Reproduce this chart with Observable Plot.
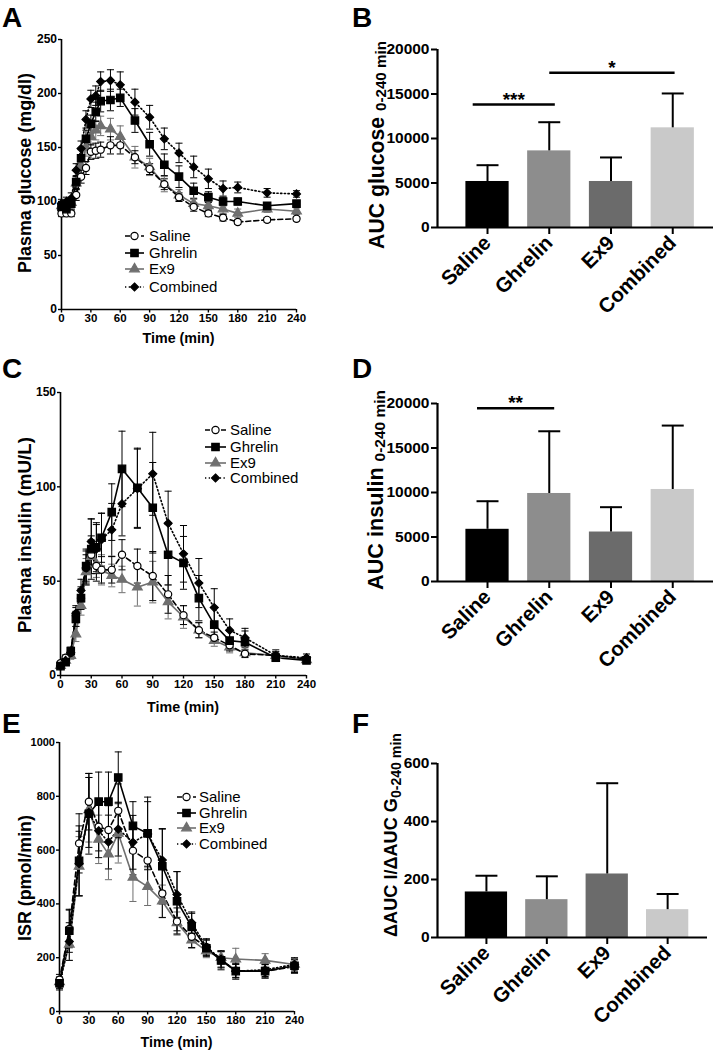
<!DOCTYPE html>
<html>
<head>
<meta charset="utf-8">
<script src="https://cdn.jsdelivr.net/npm/d3@7"></script>
<script src="https://cdn.jsdelivr.net/npm/@observablehq/plot@0.6"></script>
<style>
  body { margin: 0; background: #fff; }
  #fig { position: relative; width: 717px; height: 1054px; overflow: hidden; font-family: "Liberation Sans", Arial, sans-serif; }
</style>
</head>
<body>
<div id="fig"></div>
<script>
// ---------------- DATA ----------------
const groups = ["Saline", "Ghrelin", "Ex9", "Combined"];

// Panel A: plasma glucose (mg/dl)
const glucoseTime = [0,5,10,15,20,25,30,35,40,50,60,75,90,105,120,135,150,165,180,210,240];
const glucoseSaline    = [89,89,89,106,123,131,146,147,148,152,152,141,130,116,104,95,89,85,81,83,84];
const glucoseSalineErr = [3,3,3,5,6,6,7,7,7,8,8,6,5,5,4,4,3,3,2,2,2];
const glucoseGhrelin    = [95,93,98,118,140,158,172,183,193,194,196,175,153,134,123,110,104,100,100,96,98];
const glucoseGhrelinErr = [4,4,5,6,8,8,8,9,10,10,8,11,11,10,10,7,5,4,3,3,2];
const glucoseEx9    = [96,96,99,117,133,150,160,166,170,167,160,141,132,116,106,98,96,93,89,93,91];
const glucoseEx9Err = [3,3,4,6,7,8,8,9,9,10,10,10,8,7,5,4,4,4,4,3,3];
const glucoseCombined    = [98,100,103,129,149,176,195,198,211,212,208,192,178,158,145,132,121,112,113,108,107];
const glucoseCombinedErr = [4,4,5,6,7,8,8,9,9,10,12,12,11,10,9,10,9,7,5,4,3];

// Panel C: plasma insulin (mU/L)
const insulinTime = [0,5,10,15,20,25,30,35,40,50,60,75,90,105,120,135,150,165,180,210,240];
const insulinSaline    = [6.5,9.4,12,32,41,57,64,58,56,56,64,58,52.7,43,32,24,20,16,11.5,10.6,8.8];
const insulinSalineErr = [1,1.5,2,4,5,7,10,8,7,7,8,9,13,10,5,4,3,3,2,2,1];
const insulinGhrelin    = [5,7,13,30,41,58,67,68,73,86.6,109.5,99.5,88.9,64,59.7,41,27,18.5,17.6,9.4,8];
const insulinGhrelinErr = [1,1,2,4,6,9,16,13,13,15,20,21,24,16,14,12,9,5,6,2,1];
const insulinEx9    = [5.3,8,10.6,22,37,55,63,59,56,53,50.9,46.8,49.5,39,31,24,18.5,15,12,10.6,8.3];
const insulinEx9Err = [1,1,2,4,5,7,9,7,8,6,7,10,11,9,6,4,3,3,2,2,1];
const insulinCombined    = [5,8,12,33,45,57,71,67,72,77.2,91,99,106.9,80.7,64.5,49,36,24,20,10.6,9.4];
const insulinCombinedErr = [1,1,2,4,6,9,12,13,14,14,17,21,22,17,15,13,10,6,5,3,2];

// Panel E: insulin secretion rate (pmol/min)
const isrTime = [0,10,20,30,40,50,60,75,90,105,120,135,150,165,180,210,240];
const isrSaline    = [118,307,625,780,687,675,746,598,561,439,335,278,239,192,152,149,167];
const isrSalineErr = [20,70,110,105,90,90,100,90,100,90,50,40,30,30,25,25,25];
const isrGhrelin    = [105,300,560,735,780,780,870,690,662,540,410,315,235,190,150,150,170];
const isrGhrelinErr = [20,80,130,150,110,110,95,90,135,140,110,50,30,35,30,25,25];
const isrEx9    = [110,250,540,750,640,585,662,499,464,410,330,265,225,200,195,190,175];
const isrEx9Err = [20,60,110,120,90,95,110,90,70,60,40,30,25,25,40,25,20];
const isrCombined    = [100,260,550,740,672,630,678,629,660,563,435,330,240,195,150,155,175];
const isrCombinedErr = [20,70,120,130,100,100,100,100,120,115,85,40,30,30,25,25,25];

// Panel B: AUC glucose 0-240 min
const aucGlucose    = [5170, 8610, 5170, 11200];
const aucGlucoseErr = [1830, 3220, 2700, 3860];
const sigB = [{x1: -0.24, x2: 1.09, y: 13820, label: "***"}, {x1: 1.0, x2: 3.03, y: 17380, label: "*"}];

// Panel D: AUC insulin 0-240 min
const aucInsulin    = [5865, 9890, 5560, 10340];
const aucInsulinErr = [3155, 6990, 2790, 7180];
const sigD = [{x1: -0.17, x2: 1.08, y: 19470, label: "**"}];

// Panel F: dAUC I / dAUC G
const aucRatio    = [157, 130.5, 219, 96];
const aucRatioErr = [56, 80.5, 313, 54];

// Tick values
const timeTicks = [0,30,60,90,120,150,180,210,240];
const glucoseTicks = [0,50,100,150,200,250];
const insulinTicks = [0,50,100,150];
const isrTicks = [0,200,400,600,800,1000];
const aucTicks = [0,5000,10000,15000,20000];
const ratioTicks = [0,200,400,600];

// ---------------- STYLES ----------------
const FONT = "Liberation Sans, Arial, Helvetica, sans-serif";
const GREY = "#6f6f6f";
const barColors = ["#000000", "#8d8d8d", "#6b6b6b", "#c9c9c9"];
const styles = {
  Saline:   {color: "#000", symbol: "circle",   d3sym: d3.symbolCircle,   fill: "#fff", dash: "5,3",     r: 3.6},
  Ghrelin:  {color: "#000", symbol: "square",   d3sym: d3.symbolSquare,   fill: "#000", dash: null,      r: 4.2},
  Ex9:      {color: GREY,   symbol: "triangle", d3sym: d3.symbolTriangle, fill: GREY,   dash: null,      r: 3.6},
  Combined: {color: "#000", symbol: "diamond2", d3sym: d3.symbolDiamond2, fill: "#000", dash: "1.3,2.4", r: 3.6}
};
const drawOrder = ["Ex9", "Saline", "Ghrelin", "Combined"];
const cap = {draw(ctx, size) { const w = Math.sqrt(size) / 2; ctx.moveTo(-w, 0); ctx.lineTo(w, 0); }};
const plainFmt = d3.format("d");

const fig = document.getElementById("fig");
function place(node, left, top) {
  node.style.position = "absolute";
  node.style.left = left + "px";
  node.style.top = top + "px";
  node.style.overflow = "visible";
  fig.appendChild(node);
}

// ---------------- LINE PANELS ----------------
function linePanel({time, series, yTicks, left, top, width, height, mt, mr, mb, ml, yFont}) {
  const rows = [];
  for (const name of drawOrder) {
    const s = series[name];
    time.forEach((t, i) => rows.push({group: name, t, v: s[0][i], e: s[1][i]}));
  }
  const marks = [
    Plot.axisX({ticks: timeTicks, tickFormat: plainFmt, tickSize: 3.5, tickPadding: 1, fontSize: 11.5, fontWeight: "bold", label: null, strokeWidth: 1.4}),
    Plot.axisY({ticks: yTicks, tickFormat: plainFmt, tickSize: 3, tickPadding: 1.5, fontSize: yFont, fontWeight: "bold", label: null, strokeWidth: 1.4}),
    Plot.ruleY([0], {strokeWidth: 1.6}),
    Plot.ruleX([0], {strokeWidth: 1.6})
  ];
  for (const name of drawOrder) {
    const st = styles[name];
    const d = rows.filter(r => r.group === name);
    marks.push(
      Plot.ruleX(d, {x: "t", y1: r => r.v - r.e, y2: r => r.v + r.e, stroke: st.color, strokeWidth: 1}),
      Plot.dot(d, {x: "t", y: r => r.v + r.e, symbol: cap, r: 4, stroke: st.color, strokeWidth: 1, fill: "none"}),
      Plot.dot(d, {x: "t", y: r => r.v - r.e, symbol: cap, r: 4, stroke: st.color, strokeWidth: 1, fill: "none"}),
      Plot.line(d, {x: "t", y: "v", stroke: st.color, strokeWidth: 1.6, strokeDasharray: st.dash || undefined})
    );
  }
  for (const name of drawOrder) {
    const st = styles[name];
    const d = rows.filter(r => r.group === name);
    marks.push(Plot.dot(d, {x: "t", y: "v", symbol: st.symbol, r: st.r, fill: st.fill, stroke: st.color, strokeWidth: 1.2}));
  }
  const svg = Plot.plot({
    width, height, marginTop: mt, marginRight: mr, marginBottom: mb, marginLeft: ml,
    x: {domain: [0, 240]},
    y: {domain: [0, yTicks[yTicks.length - 1]]},
    style: {fontFamily: FONT, background: "transparent", color: "#000", overflow: "visible"},
    marks
  });
  place(svg, left, top);
}

linePanel({
  time: glucoseTime,
  series: {Saline: [glucoseSaline, glucoseSalineErr], Ghrelin: [glucoseGhrelin, glucoseGhrelinErr], Ex9: [glucoseEx9, glucoseEx9Err], Combined: [glucoseCombined, glucoseCombinedErr]},
  yTicks: glucoseTicks, left: 0, top: 0, width: 358, height: 352, mt: 39, mr: 62, mb: 43, ml: 61, yFont: 12
});
linePanel({
  time: insulinTime,
  series: {Saline: [insulinSaline, insulinSalineErr], Ghrelin: [insulinGhrelin, insulinGhrelinErr], Ex9: [insulinEx9, insulinEx9Err], Combined: [insulinCombined, insulinCombinedErr]},
  yTicks: insulinTicks, left: 0, top: 345, width: 358, height: 365, mt: 47, mr: 52, mb: 35, ml: 60, yFont: 12
});
linePanel({
  time: isrTime,
  series: {Saline: [isrSaline, isrSalineErr], Ghrelin: [isrGhrelin, isrGhrelinErr], Ex9: [isrEx9, isrEx9Err], Combined: [isrCombined, isrCombinedErr]},
  yTicks: isrTicks, left: 0, top: 700, width: 358, height: 354, mt: 42, mr: 64, mb: 43, ml: 59, yFont: 11
});

// ---------------- BAR PANELS ----------------
const xDomain = [-0.81, 3.66];
function barPanel({values, errs, yTicks, sig, left, top, width, height, mt, mr, mb, ml}) {
  const data = groups.map((g, i) => ({i, g, v: values[i], e: errs[i]}));
  const marks = [
    Plot.rect(data, {x1: d => d.i - 0.35, x2: d => d.i + 0.35, y1: 0, y2: "v", fill: d => barColors[d.i]}),
    Plot.ruleX(data, {x: "i", y1: "v", y2: d => d.v + d.e, strokeWidth: 2}),
    Plot.dot(data, {x: "i", y: d => d.v + d.e, symbol: cap, r: 12.4, stroke: "#000", strokeWidth: 2, fill: "none"}),
    Plot.ruleY([0], {strokeWidth: 2.2}),
    Plot.ruleX([xDomain[0]], {strokeWidth: 2.2}),
    Plot.axisY({ticks: yTicks, tickFormat: plainFmt, tickSize: 6, tickPadding: 2, fontSize: 15.5, fontWeight: "bold", label: null, strokeWidth: 2}),
    Plot.axisX({ticks: [0, 1, 2, 3], tickFormat: i => groups[i], tickRotate: -45, tickSize: 7, tickPadding: 5, fontSize: 20.5, fontWeight: "bold", label: null, strokeWidth: 2})
  ];
  if (sig) {
    marks.push(
      Plot.link(sig, {x1: "x1", x2: "x2", y1: "y", y2: "y", strokeWidth: 2.5, stroke: "#000"}),
      Plot.text(sig, {x: d => (d.x1 + d.x2) / 2, y: "y", text: "label", lineAnchor: "bottom", dy: 1, fontSize: 19, fontWeight: "bold"})
    );
  }
  const svg = Plot.plot({
    width, height, marginTop: mt, marginRight: mr, marginBottom: mb, marginLeft: ml,
    x: {domain: xDomain},
    y: {domain: [0, yTicks[yTicks.length - 1]]},
    style: {fontFamily: FONT, background: "transparent", color: "#000", overflow: "visible"},
    marks
  });
  place(svg, left, top);
}

barPanel({values: aucGlucose, errs: aucGlucoseErr, yTicks: aucTicks, sig: sigB, left: 358, top: 0, width: 359, height: 340, mt: 49, mr: 4, mb: 113, ml: 79});
barPanel({values: aucInsulin, errs: aucInsulinErr, yTicks: aucTicks, sig: sigD, left: 358, top: 345, width: 359, height: 345, mt: 58, mr: 4, mb: 109, ml: 79});
barPanel({values: aucRatio, errs: aucRatioErr, yTicks: ratioTicks, sig: null, left: 358, top: 700, width: 359, height: 354, mt: 63, mr: 10, mb: 117, ml: 79});

// ---------------- OVERLAY: letters, axis titles, legends ----------------
const ov = d3.select(fig).append("svg")
  .attr("width", 717).attr("height", 1054)
  .style("position", "absolute").style("left", "0px").style("top", "0px")
  .style("pointer-events", "none")
  .style("font-family", FONT);

// scale a label's font so its rendered length matches the reference
function fitLength(sel, target) {
  const node = sel.node();
  const L = node.getComputedTextLength();
  if (!(L > 0)) return;
  const k = Math.max(0.75, Math.min(1.3, target / L));
  const spans = sel.selectAll("tspan");
  if (spans.empty()) {
    sel.attr("font-size", +sel.attr("font-size") * k);
  } else {
    spans.each(function () {
      const fs = +this.getAttribute("font-size");
      this.setAttribute("font-size", fs * k);
      const dy = this.getAttribute("dy");
      if (dy) this.setAttribute("dy", +dy * k);
    });
  }
}

// Panel letters
[["A", 2, 27], ["B", 352, 27], ["C", 2, 378], ["D", 352, 378], ["E", 2, 733], ["F", 352, 733]].forEach(([t, x, y]) => {
  ov.append("text").attr("x", x).attr("y", y).attr("font-size", 28).attr("font-weight", "bold").text(t);
});

// X axis titles
[[178.5, 343], [183, 712], [176.5, 1047]].forEach(([x, y]) => {
  const t = ov.append("text").attr("x", x).attr("y", y).attr("text-anchor", "middle")
    .attr("font-size", 14.5).attr("font-weight", "bold").text("Time (min)");
  fitLength(t, 72);
});

// Y axis titles (line panels)
[["Plasma glucose (mg/dl)", 31, 173, 200], ["Plasma insulin (mU/L)", 31, 535, 196], ["ISR (pmol/min)", 31, 878, 126]].forEach(([t, x, y, L]) => {
  const s = ov.append("text").attr("transform", `translate(${x},${y}) rotate(-90)`).attr("text-anchor", "middle")
    .attr("font-size", 18).attr("font-weight", "bold").text(t);
  fitLength(s, L);
});

// Y axis titles (bar panels) with subscripts
function barTitle(main, sub, x, y, mainSize, subSize, shift, gap, L) {
  const t = ov.append("text").attr("transform", `translate(${x},${y}) rotate(-90)`).attr("text-anchor", "middle")
    .attr("font-weight", "bold");
  t.append("tspan").attr("font-size", mainSize).text(main + gap);
  t.append("tspan").attr("font-size", subSize).attr("dy", shift).text(sub);
  fitLength(t, L);
}
barTitle("AUC glucose", "0-240 min", 384, 145, 21, 15, 2, " ", 208);
barTitle("AUC insulin", "0-240 min", 383, 490, 21, 15, 2, " ", 200);
barTitle("\u0394AUC I/\u0394AUC G", "0-240 min", 397, 835, 18, 14, 4, "", 204);

// Legends
function legend(x0, lineLen, textX, ys) {
  groups.forEach((name, k) => {
    const st = styles[name];
    const y = ys[k];
    const ln = ov.append("line").attr("x1", x0).attr("x2", x0 + lineLen).attr("y1", y).attr("y2", y)
      .attr("stroke", st.color).attr("stroke-width", 1.6);
    if (st.dash) ln.attr("stroke-dasharray", st.dash);
    const area = Math.PI * st.r * st.r;
    ov.append("path").attr("d", d3.symbol(st.d3sym, area)())
      .attr("transform", `translate(${x0 + lineLen / 2},${y})`)
      .attr("fill", st.fill).attr("stroke", st.color).attr("stroke-width", 1.2);
    ov.append("text").attr("x", textX).attr("y", y).attr("dy", "0.36em")
      .attr("font-size", 15).attr("font-weight", "normal").text(name);
  });
}
legend(125, 19, 149, [236, 253, 269, 287]);
legend(205, 21, 230, [430, 447, 463, 478]);
legend(177, 19, 199, [797, 813, 828, 844]);
</script>
</body>
</html>
